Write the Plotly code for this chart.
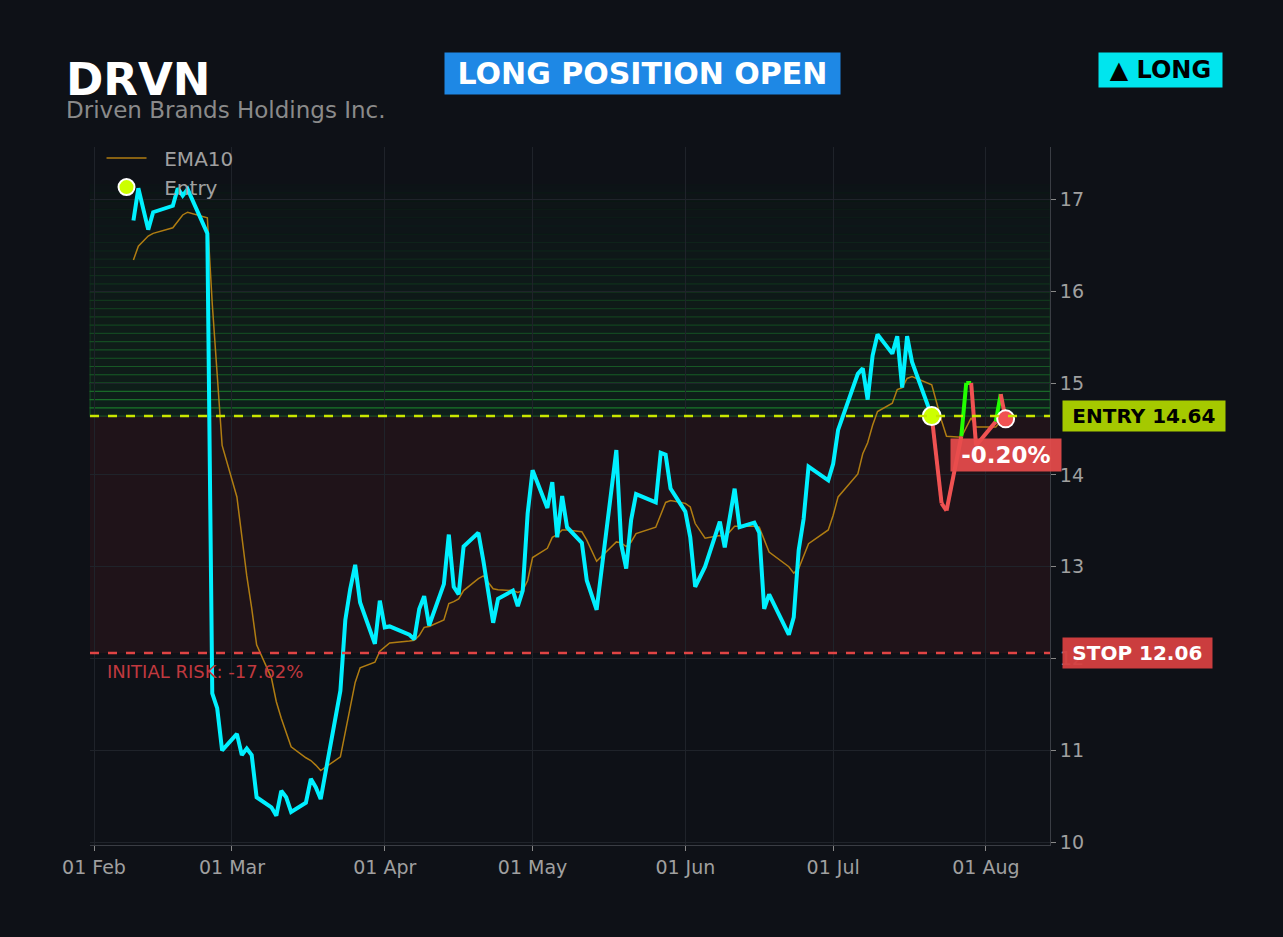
import plotly.graph_objects as go

# --- data ---
ticker = "DRVN"
company = "Driven Brands Holdings Inc."
entry_price = 14.64
stop_price = 12.06
entry_date = "2026-07-21"

dates = [
    "2026-02-09", "2026-02-10", "2026-02-12", "2026-02-13", "2026-02-17", "2026-02-18",
    "2026-02-19", "2026-02-20", "2026-02-24", "2026-02-25", "2026-02-26", "2026-02-27",
    "2026-03-02", "2026-03-03", "2026-03-04", "2026-03-05", "2026-03-06", "2026-03-09",
    "2026-03-10", "2026-03-11", "2026-03-12", "2026-03-13", "2026-03-16", "2026-03-17",
    "2026-03-18", "2026-03-19", "2026-03-23", "2026-03-24", "2026-03-25", "2026-03-26",
    "2026-03-27", "2026-03-30", "2026-03-31", "2026-04-01", "2026-04-02", "2026-04-06",
    "2026-04-07", "2026-04-08", "2026-04-09", "2026-04-10", "2026-04-13", "2026-04-14",
    "2026-04-15", "2026-04-16", "2026-04-17", "2026-04-20", "2026-04-21", "2026-04-23",
    "2026-04-24", "2026-04-27", "2026-04-28", "2026-04-29", "2026-04-30", "2026-05-01",
    "2026-05-04", "2026-05-05", "2026-05-06", "2026-05-07", "2026-05-08", "2026-05-11",
    "2026-05-12", "2026-05-14", "2026-05-18", "2026-05-19", "2026-05-20", "2026-05-21",
    "2026-05-22", "2026-05-26", "2026-05-27", "2026-05-28", "2026-05-29", "2026-06-01",
    "2026-06-02", "2026-06-03", "2026-06-05", "2026-06-08", "2026-06-09", "2026-06-11",
    "2026-06-12", "2026-06-15", "2026-06-16", "2026-06-17", "2026-06-18", "2026-06-22",
    "2026-06-23", "2026-06-24", "2026-06-25", "2026-06-26", "2026-06-30", "2026-07-01",
    "2026-07-02", "2026-07-06", "2026-07-07", "2026-07-08", "2026-07-09", "2026-07-10",
    "2026-07-13", "2026-07-14", "2026-07-15", "2026-07-16", "2026-07-17", "2026-07-21",
    "2026-07-23", "2026-07-24", "2026-07-27", "2026-07-28", "2026-07-29", "2026-07-30",
    "2026-08-03", "2026-08-04", "2026-08-05",
]

close = [
    16.77, 17.12, 16.67, 16.86, 16.93, 17.12,
    17.04, 17.11, 16.63, 11.62, 11.46, 11.00,
    11.18, 10.95, 11.02, 10.95, 10.49, 10.38,
    10.29, 10.56, 10.49, 10.33, 10.43, 10.69,
    10.60, 10.47, 11.65, 12.42, 12.76, 13.02,
    12.61, 12.16, 12.63, 12.34, 12.35, 12.26,
    12.21, 12.54, 12.68, 12.36, 12.81, 13.35,
    12.78, 12.70, 13.22, 13.37, 13.07, 12.39,
    12.65, 12.74, 12.57, 12.74, 13.58, 14.05,
    13.64, 13.92, 13.32, 13.77, 13.43, 13.26,
    12.85, 12.53, 14.27, 13.24, 12.98, 13.51,
    13.79, 13.70, 14.24, 14.22, 13.85, 13.60,
    13.32, 12.78, 13.00, 13.49, 13.21, 13.85,
    13.43, 13.48, 13.37, 12.54, 12.70, 12.26,
    12.45, 13.18, 13.52, 14.09, 13.94, 14.12,
    14.49, 15.10, 15.16, 14.82, 15.30, 15.53,
    15.32, 15.51, 14.95, 15.51, 15.23, 14.64,
    13.69, 13.61, 14.42, 15.00, 15.00, 14.32,
    14.58, 14.88, 14.61,
]

ema10 = [
    16.34, 16.49, 16.60, 16.63, 16.69, 16.76,
    16.83, 16.86, 16.80, 15.86, 15.04, 14.32,
    13.76, 13.30, 12.90, 12.55, 12.15, 11.79,
    11.53, 11.35, 11.19, 11.04, 10.92, 10.89,
    10.84, 10.78, 10.93, 11.19, 11.45, 11.74,
    11.90, 11.96, 12.08, 12.13, 12.17, 12.19,
    12.20, 12.25, 12.34, 12.35, 12.42, 12.60,
    12.62, 12.65, 12.74, 12.87, 12.90, 12.76,
    12.75, 12.74, 12.72, 12.74, 12.85, 13.10,
    13.20, 13.32, 13.35, 13.40, 13.40, 13.38,
    13.29, 13.06, 13.27, 13.26, 13.22, 13.27,
    13.36, 13.43, 13.56, 13.70, 13.72, 13.69,
    13.65, 13.47, 13.31, 13.34, 13.32, 13.44,
    13.44, 13.44, 13.43, 13.29, 13.16, 13.00,
    12.93, 12.98, 13.12, 13.25, 13.40, 13.56,
    13.76, 14.01, 14.23, 14.35, 14.54, 14.69,
    14.78, 14.93, 14.95, 15.05, 15.07, 14.98,
    14.59, 14.42, 14.41, 14.52, 14.62, 14.52,
    14.52, 14.59, 14.60,
]

# --- colours ---
BG = "#0e1117"
CYAN = "#00f0ff"
UP = "#22ff00"
DOWN = "#f05252"
ENTRY_C = "#c8e600"
STOP_C = "#e04444"
GRID = "#1f232a"
TXT = "#a0a0a0"
SP = "&nbsp;"

fig = go.Figure()

# zones: red risk zone, green gradient target zone
fig.add_hrect(y0=stop_price, y1=entry_price, fillcolor="rgba(255,60,60,0.075)",
              line_width=0, layer="below")
n_bands = 28
band_h = 0.09
for i in range(n_bands):
    a = 1 - i / n_bands
    fig.add_shape(type="rect", xref="paper", yref="y", x0=0, x1=1,
                  y0=entry_price + i * band_h, y1=entry_price + (i + 1) * band_h,
                  fillcolor=f"rgba(30,200,60,{0.015 + 0.065 * a:.3f})",
                  line=dict(color=f"rgba(40,200,60,{0.02 + 0.28 * a * a:.3f})", width=1.2),
                  layer="below")

# entry / stop lines
fig.add_hline(y=entry_price, line=dict(color=ENTRY_C, width=2.5, dash="dash"))
fig.add_hline(y=stop_price, line=dict(color=STOP_C, width=2.5, dash="dash"))

# EMA
fig.add_trace(go.Scatter(x=dates, y=ema10, mode="lines", name=f"{SP}{SP}EMA10",
                         line=dict(color="#b07d12", width=1.5)))

# price up to entry
ei = dates.index(entry_date)
fig.add_trace(go.Scatter(x=dates[:ei + 1], y=close[:ei + 1], mode="lines",
                         line=dict(color=CYAN, width=4), showlegend=False))

# price after entry, segment colour by side of entry
for i in range(ei, len(dates) - 1):
    col = UP if close[i + 1] >= entry_price else DOWN
    fig.add_trace(go.Scatter(x=dates[i:i + 2], y=close[i:i + 2], mode="lines",
                             line=dict(color=col, width=4), showlegend=False))

# entry and exit markers
fig.add_trace(go.Scatter(x=[entry_date], y=[entry_price], mode="markers",
                         name=f"{SP}{SP}Entry",
                         marker=dict(size=18, color="#ccff00",
                                     line=dict(color="white", width=2))))
fig.add_trace(go.Scatter(x=[dates[-1]], y=[close[-1]], mode="markers", showlegend=False,
                         marker=dict(size=17, color=DOWN,
                                     line=dict(color="white", width=2))))

pnl = (close[-1] - entry_price) / entry_price * 100
risk = (stop_price - entry_price) / entry_price * 100

# header
fig.add_annotation(text=f"<b>{ticker}</b>", xref="paper", yref="paper", x=-0.027, y=1.096,
                   xanchor="left", yanchor="middle", showarrow=False,
                   font=dict(size=45, color="white"))
fig.add_annotation(text=company, xref="paper", yref="paper", x=-0.027, y=1.053,
                   xanchor="left", yanchor="middle", showarrow=False,
                   font=dict(size=23, color="#8a8a8a"))
fig.add_annotation(text=f"{SP}<b>LONG POSITION OPEN</b>{SP}", xref="paper", yref="paper",
                   x=0.575, y=1.105, xanchor="center", yanchor="middle", showarrow=False,
                   font=dict(size=30, color="white"), bgcolor="#1e88e5", borderpad=3)
fig.add_annotation(text=f"{SP}<b>▲ LONG</b>{SP}", xref="paper", yref="paper",
                   x=1.115, y=1.11, xanchor="center", yanchor="middle", showarrow=False,
                   font=dict(size=24, color="black"), bgcolor="#00e5ee", borderpad=3)

# level labels
fig.add_annotation(text=f"{SP}<b>ENTRY {entry_price:.2f}</b>{SP}", xref="paper", yref="y",
                   x=1.098, y=entry_price, xanchor="center", yanchor="middle",
                   showarrow=False, font=dict(size=20, color="black"),
                   bgcolor="rgba(170,208,0,0.97)", borderpad=3)
fig.add_annotation(text=f"{SP}<b>STOP {stop_price:.2f}</b>{SP}", xref="paper", yref="y",
                   x=1.091, y=stop_price, xanchor="center", yanchor="middle",
                   showarrow=False, font=dict(size=20, color="white"),
                   bgcolor="rgba(214,64,64,0.95)", borderpad=3)
fig.add_annotation(text=f"{SP}<b>{pnl:.2f}%</b>{SP}", x=dates[-1], y=close[-1], yshift=-36,
                   xanchor="center", yanchor="middle", showarrow=False,
                   font=dict(size=23, color="white"),
                   bgcolor="rgba(232,76,76,0.92)", borderpad=3)
fig.add_annotation(text=f"INITIAL RISK: {risk:.2f}%", xref="paper", yref="y",
                   x=0.016, y=stop_price, yshift=-18, xanchor="left", yanchor="middle",
                   showarrow=False, font=dict(size=18, color="#c0393f"))

fig.update_layout(
    width=1283, height=937,
    paper_bgcolor=BG, plot_bgcolor=BG,
    font=dict(family="DejaVu Sans", color=TXT, size=19),
    margin=dict(l=90, r=233, t=147, b=92),
    legend=dict(x=0.012, y=1.012, xanchor="left", yanchor="top", itemwidth=40,
                bgcolor="rgba(0,0,0,0)", font=dict(size=20, color=TXT)),
    xaxis=dict(range=["2026-01-31 04:30", "2026-08-14"], tickformat="%d %b",
               dtick="M1", tick0="2026-02-01", showgrid=True, gridcolor=GRID,
               showline=True, linecolor="#3a3d44", ticks="outside", ticklen=5,
               tickcolor="#888", zeroline=False, tickfont=dict(size=19)),
    yaxis=dict(range=[9.97, 17.57], side="right", dtick=1, showgrid=True,
               gridcolor=GRID, showline=True, linecolor="#3a3d44", ticks="outside",
               ticklen=5, tickcolor="#888", zeroline=False, tickfont=dict(size=19)),
)

fig.write_html("out.html", config={"displayModeBar": False},
               post_script="document.body.style.margin='0';")
